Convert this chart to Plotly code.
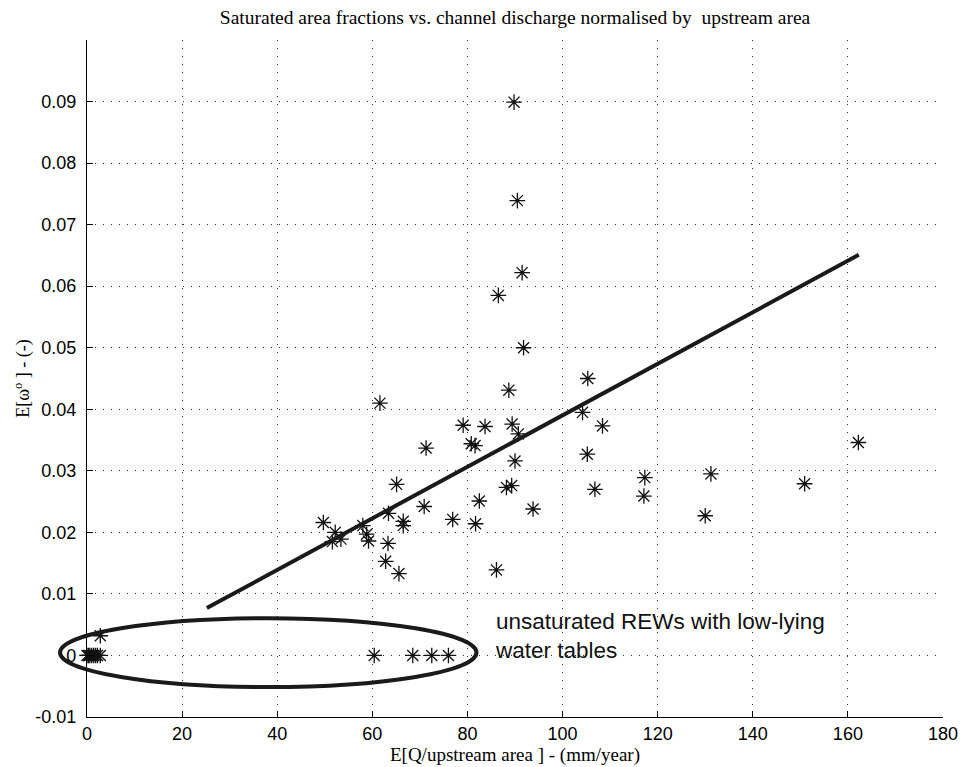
import plotly.graph_objects as go

# Scatter data: E[Q/upstream area] (mm/year) vs E[omega^o] (-)
discharge = [89.8, 90.5, 91.5, 86.5, 91.8, 105.3, 61.6, 88.7, 104.2, 79.1,
             83.7, 89.4, 90.7, 80.8, 81.6, 71.3, 162.2, 108.4, 105.2, 90.0,
             117.3, 131.2, 150.9, 65.1, 88.2, 89.3, 106.8, 117.1, 130.0, 82.5,
             93.8, 70.9, 63.4, 49.7, 76.9, 66.5, 66.5, 81.7, 58.0, 52.2,
             58.8, 51.6, 53.4, 59.2, 63.3, 62.8, 65.6, 86.1,
             0.0, 0.3, 0.6, 1.0, 1.4, 1.8, 2.2, 2.8, 2.8,
             60.4, 68.5, 72.5, 76.0]
sat_frac = [0.0899, 0.0739, 0.0622, 0.0585, 0.0500, 0.0450, 0.0410, 0.0431, 0.0395, 0.0374,
            0.0372, 0.0376, 0.0360, 0.0344, 0.0341, 0.0337, 0.0346, 0.0373, 0.0327, 0.0316,
            0.0289, 0.0295, 0.0279, 0.0278, 0.0273, 0.0276, 0.0270, 0.0259, 0.0227, 0.0251,
            0.0238, 0.0242, 0.0231, 0.0216, 0.0221, 0.0218, 0.0211, 0.0214, 0.0211, 0.0200,
            0.0197, 0.0185, 0.0189, 0.0186, 0.0182, 0.0153, 0.0133, 0.0139,
            0.0, 0.0, 0.0, 0.0, 0.0, 0.0, 0.0, 0.0, 0.0032,
            0.0, 0.0, 0.0, 0.0]

# Fitted regression line end points
fit_x = [25.2, 162.3]
fit_y = [0.0077, 0.0651]

x_ticks = [0, 20, 40, 60, 80, 100, 120, 140, 160, 180]
y_ticks = [-0.01, 0, 0.01, 0.02, 0.03, 0.04, 0.05, 0.06, 0.07, 0.08, 0.09]
y_tick_text = ["-0.01", "0", "0.01", "0.02", "0.03", "0.04", "0.05", "0.06", "0.07", "0.08", "0.09"]

SANS = "Liberation Sans, Arial, sans-serif"
SERIF = "Liberation Serif, Times New Roman, serif"

fig = go.Figure()
fig.add_trace(go.Scatter(
    x=discharge, y=sat_frac, mode="markers",
    marker=dict(symbol="asterisk-open", size=13, color="#111111",
                line=dict(color="#111111", width=1.3)),
    cliponaxis=False, showlegend=False))
fig.add_trace(go.Scatter(
    x=fit_x, y=fit_y, mode="lines",
    line=dict(color="#1a1a1a", width=4), showlegend=False))

# Ellipse highlighting unsaturated REWs (paper coords so it is not clipped)
fig.add_shape(type="circle", xref="paper", yref="paper",
              x0=-0.0315, x1=0.455, y0=0.0443, y1=0.146,
              line=dict(color="#1a1a1a", width=4))

fig.add_annotation(x=85.4, y=0.0032, xref="x", yref="y",
                   text="unsaturated REWs with low-lying<br>water tables",
                   showarrow=False, xanchor="left", yanchor="middle", align="left",
                   font=dict(family=SANS, size=22.5, color="#111111"))

axis_common = dict(
    showline=True, linecolor="black", linewidth=1.2,
    ticks="inside", ticklen=6, tickcolor="black",
    showgrid=True, gridcolor="#333333", griddash="1px,7px", gridwidth=1,
    zeroline=False, mirror=False, automargin=False,
    tickfont=dict(family=SANS, size=18, color="black"),
)

fig.update_xaxes(range=[0, 180], tickvals=x_ticks, **axis_common,
                 title=dict(text="E[Q/upstream area ] - (mm/year)", standoff=2,
                            font=dict(family=SERIF, size=19, color="black")))
fig.update_yaxes(range=[-0.01, 0.1], tickvals=y_ticks, ticktext=y_tick_text, **axis_common,
                 ticklabelstandoff=6,
                 title=dict(text="E[ω<sup>o</sup> ] - (-)", standoff=0,
                            font=dict(family=SERIF, size=18, color="black")))

fig.update_layout(
    width=960, height=767,
    margin=dict(l=87, r=17, t=40, b=50, autoexpand=False),
    paper_bgcolor="white", plot_bgcolor="white",
    title=dict(text="Saturated area fractions vs. channel discharge normalised by  upstream area",
               x=0.5365, xanchor="center", y=0.977, yanchor="middle",
               font=dict(family=SERIF, size=19.5, color="black")),
)

fig.write_html("out.html")
